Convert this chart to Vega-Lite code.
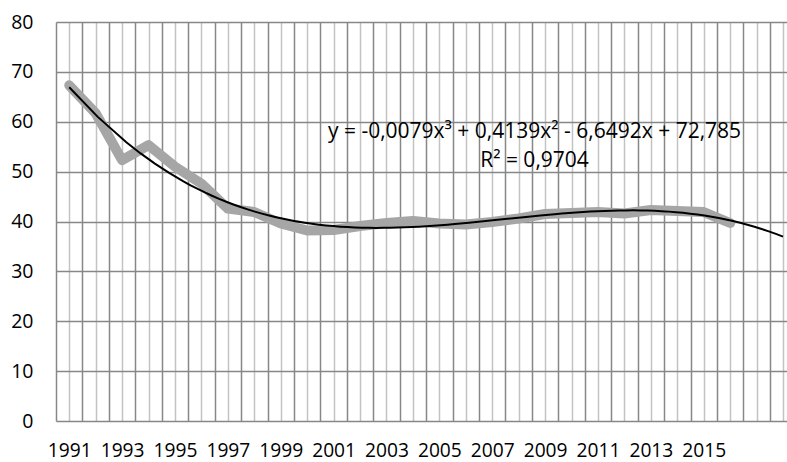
{
  "$schema": "https://vega.github.io/schema/vega-lite/v6.json",
  "width": 731,
  "height": 399,
  "autosize": {"type": "none"},
  "padding": {"left": 56, "top": 22, "right": 0, "bottom": 41},
  "background": "white",
  "config": {"view": {"stroke": null}},
  "data": {
    "values": [
      {"year": 1991, "value": 67.3},
      {"year": 1992, "value": 61.7},
      {"year": 1993, "value": 52.3},
      {"year": 1994, "value": 55.3},
      {"year": 1995, "value": 51.0},
      {"year": 1996, "value": 47.6},
      {"year": 1997, "value": 42.6},
      {"year": 1998, "value": 41.9},
      {"year": 1999, "value": 39.6},
      {"year": 2000, "value": 38.2},
      {"year": 2001, "value": 38.3},
      {"year": 2002, "value": 39.1},
      {"year": 2003, "value": 39.7},
      {"year": 2004, "value": 40.1},
      {"year": 2005, "value": 39.6},
      {"year": 2006, "value": 39.4},
      {"year": 2007, "value": 39.9},
      {"year": 2008, "value": 40.6},
      {"year": 2009, "value": 41.5},
      {"year": 2010, "value": 41.7},
      {"year": 2011, "value": 41.9},
      {"year": 2012, "value": 41.6},
      {"year": 2013, "value": 42.3},
      {"year": 2014, "value": 42.1},
      {"year": 2015, "value": 41.9},
      {"year": 2016, "value": 39.7}
    ]
  },
  "encoding": {
    "x": {
      "field": "year",
      "type": "quantitative",
      "scale": {"domain": [1990.5, 2018.15], "nice": false, "zero": false},
      "axis": {
        "title": null,
        "values": [1990.5, 1991, 1991.5, 1992, 1992.5, 1993, 1993.5, 1994, 1994.5, 1995, 1995.5, 1996, 1996.5, 1997, 1997.5, 1998, 1998.5, 1999, 1999.5, 2000, 2000.5, 2001, 2001.5, 2002, 2002.5, 2003, 2003.5, 2004, 2004.5, 2005, 2005.5, 2006, 2006.5, 2007, 2007.5, 2008, 2008.5, 2009, 2009.5, 2010, 2010.5, 2011, 2011.5, 2012, 2012.5, 2013, 2013.5, 2014, 2014.5, 2015, 2015.5, 2016, 2016.5, 2017, 2017.5, 2018],
        "grid": true,
        "gridColor": {"condition": {"test": "datum.value % 1 != 0", "value": "#878787"}, "value": "#c3c3c3"},
        "gridWidth": 1.5,
        "ticks": false,
        "domain": false,
        "labelExpr": "(datum.value % 2 == 1 && datum.value <= 2015) ? ('' + datum.value) : ''",
        "labelFont": "Open Sans",
        "labelFontWeight": "normal",
        "labelFontSize": 19.2,
        "labelColor": "#000000",
        "labelPadding": 20,
        "labelOverlap": false,
        "labelFlush": false,
        "labelBound": false
      }
    },
    "y": {
      "field": "value",
      "type": "quantitative",
      "scale": {"domain": [0, 80], "nice": false},
      "axis": {
        "title": null,
        "values": [0, 10, 20, 30, 40, 50, 60, 70, 80],
        "grid": true,
        "gridColor": "#878787",
        "gridWidth": 1.5,
        "ticks": false,
        "domain": false,
        "labelFont": "Open Sans",
        "labelFontWeight": "normal",
        "labelFontSize": 19.5,
        "labelColor": "#000000",
        "labelPadding": 23
      }
    }
  },
  "layer": [
    {
      "mark": {"type": "line", "color": "#a6a6a6", "strokeWidth": 10, "strokeCap": "round", "strokeJoin": "round"}
    },
    {
      "transform": [
        {"regression": "value", "on": "year", "method": "poly", "order": 3, "extent": [1991, 2018]}
      ],
      "mark": {"type": "line", "color": "#000000", "strokeWidth": 2}
    },
    {
      "transform": [{"filter": "datum.year == 1991"}],
      "mark": {"type": "text", "font": "Open Sans", "fontWeight": "normal", "fontSize": 21, "color": "#000000", "align": "center", "baseline": "middle", "lineHeight": 29},
      "encoding": {
        "x": {"datum": 2008.6},
        "y": {"datum": 57.9},
        "text": {"value": ["y = -0,0079x³ + 0,4139x² - 6,6492x + 72,785", "R² = 0,9704"]}
      }
    }
  ]
}
